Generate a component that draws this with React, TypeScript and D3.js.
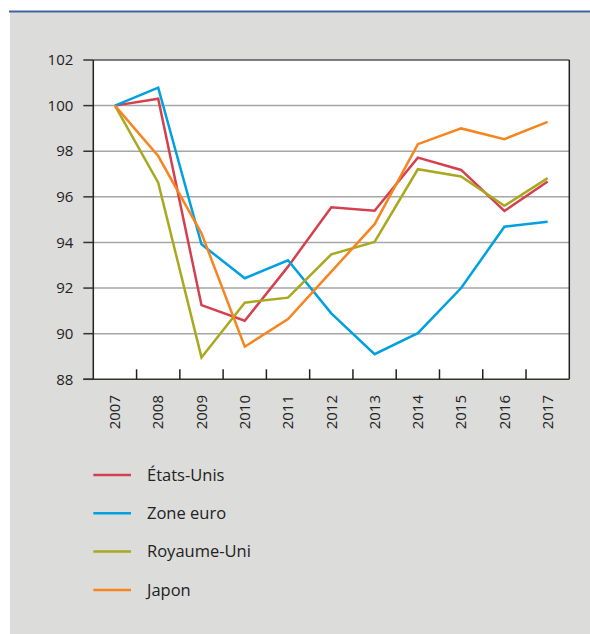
import React from "react";
import * as d3 from "d3";

const years = ["2007","2008","2009","2010","2011","2012","2013","2014","2015","2016","2017"];
const etatsUnis = [100, 100.3, 91.25, 90.57, 92.94, 95.54, 95.39, 97.72, 97.18, 95.38, 96.67];
const zoneEuro = [100, 100.79, 93.92, 92.43, 93.22, 90.89, 89.1, 90.02, 92.0, 94.69, 94.91];
const royaumeUni = [100, 96.62, 88.96, 91.36, 91.58, 93.48, 94.02, 97.21, 96.89, 95.61, 96.82];
const japon = [100, 97.79, 94.4, 89.43, 90.64, 92.72, 94.8, 98.31, 99.0, 98.53, 99.29];
const yTicks = [88, 90, 92, 94, 96, 98, 100, 102];

const series = [
  { name: "États-Unis", values: etatsUnis, color: "#d5404f" },
  { name: "Zone euro", values: zoneEuro, color: "#00a0e1" },
  { name: "Royaume-Uni", values: royaumeUni, color: "#a9a920" },
  { name: "Japon", values: japon, color: "#f7841f" },
];

const W = 590, H = 634;
const left = 93.3, right = 569.3, top = 60, bottom = 379.3;
const font = "'Open Sans', 'Noto Sans', sans-serif";

export default function App() {
  const x = d3.scaleBand<string>().domain(years).range([left, right]);
  const y = d3.scaleLinear().domain([88, 102]).range([bottom, top]);
  const line = d3.line<number>()
    .x((_, i) => (x(years[i]) as number) + x.bandwidth() / 2)
    .y((d) => y(d));

  return (
    <svg width={W} height={H} style={{ position: "absolute", left: 0, top: 0 }}>
      <rect x={10} y={12} width={W - 10} height={H - 12} fill="#dcdcdb" />
      <line x1={9} x2={W} y1={11.5} y2={11.5} stroke="#3f64a0" strokeWidth={2} />
      <rect x={left} y={top} width={right - left} height={bottom - top} fill="#ffffff" />
      {yTicks.filter(t => t !== 88 && t !== 102).map(t => (
        <line key={t} x1={left} x2={right} y1={y(t)} y2={y(t)} stroke="#a6a6a6" strokeWidth={1.5} />
      ))}
      <line x1={left} x2={right} y1={top} y2={top} stroke="#555" strokeWidth={1.5} />
      <line x1={right} x2={right} y1={top} y2={bottom} stroke="#222" strokeWidth={1.5} />
      {series.map(s => (
        <path key={s.name} d={line(s.values) || ""} fill="none" stroke={s.color} strokeWidth={2.5} strokeLinejoin="miter" />
      ))}
      <line x1={left} x2={left} y1={top} y2={bottom} stroke="#222" strokeWidth={1.5} />
      <line x1={left - 10} x2={right} y1={bottom} y2={bottom} stroke="#333" strokeWidth={1.5} />
      {yTicks.map(t => (
        <g key={t}>
          <line x1={left - 10} x2={left} y1={y(t)} y2={y(t)} stroke="#333" strokeWidth={1.5} />
          <text x={left - 20} y={y(t)} dy="0.35em" textAnchor="end" fontFamily={font} fontSize={15} fill="#222">{t}</text>
        </g>
      ))}
      {years.slice(1).map(yr => (
        <line key={yr} x1={x(yr) as number} x2={x(yr) as number} y1={bottom} y2={bottom - 10} stroke="#222" strokeWidth={1.5} />
      ))}
      {years.map(yr => {
        const cx = (x(yr) as number) + x.bandwidth() / 2;
        return (
          <text key={yr} transform={`translate(${cx},${395}) rotate(-90)`} textAnchor="end" dy="0.35em" fontFamily={font} fontSize={15} fill="#222">{yr}</text>
        );
      })}
      {series.map((s, i) => {
        const ly = 475 + i * 38.3;
        return (
          <g key={s.name}>
            <line x1={93.3} x2={131} y1={ly} y2={ly} stroke={s.color} strokeWidth={2.5} />
            <text x={147} y={ly} dy="0.35em" fontFamily={font} fontSize={16.5} fill="#222">{s.name}</text>
          </g>
        );
      })}
    </svg>
  );
}
